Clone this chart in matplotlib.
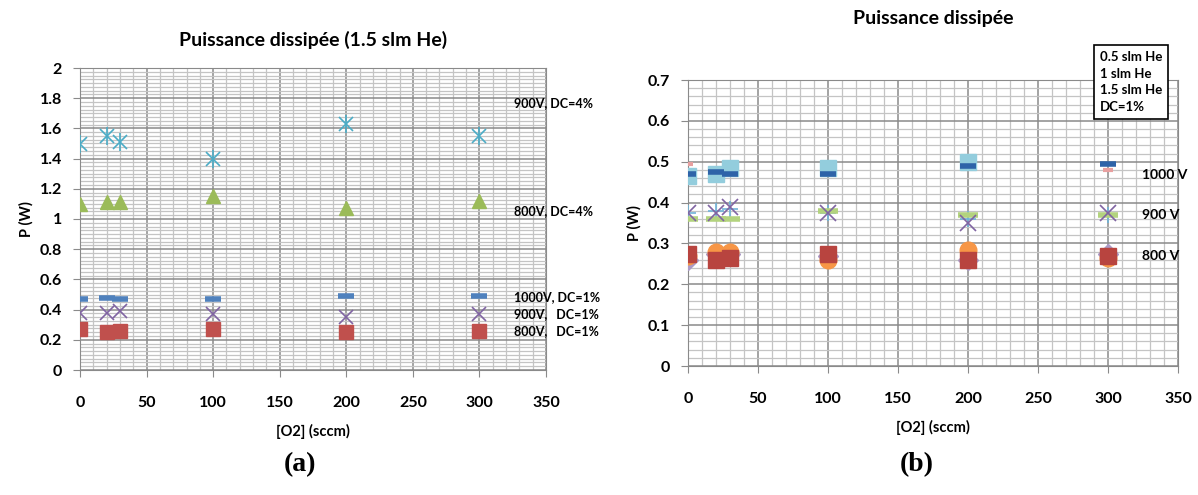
"""
Puissance dissipee vs O2 flow, two panels.
"""

import numpy as np
import matplotlib.pyplot as plt
from matplotlib.ticker import MultipleLocator, FormatStrFormatter

plt.rcParams["font.family"] = ["Lato", "DejaVu Sans"]

# x: O2 flow (sccm)
O2 = [0, 20, 30, 100, 200, 300]

# panel (a): 1.5 slm He
A_900_DC4 = [1.50, 1.55, 1.51, 1.40, 1.63, 1.55]
A_800_DC4 = [1.10, 1.11, 1.11, 1.15, 1.07, 1.12]
A_1000_DC1 = [0.47, 0.48, 0.47, 0.47, 0.49, 0.49]
A_900_DC1 = [0.38, 0.38, 0.39, 0.37, 0.35, 0.37]
A_800_DC1 = [0.27, 0.25, 0.26, 0.27, 0.25, 0.26]

# panel (b): DC=1%, three He flows
B_800_05 = [0.26, 0.275, 0.275, 0.27, 0.26, 0.275]
B_800_10 = [0.27, 0.28, 0.28, 0.26, 0.285, 0.265]
B_800_15 = [0.275, 0.26, 0.265, 0.275, 0.26, 0.27]
B_900_05 = [0.375, 0.38, 0.385, 0.375, 0.36, 0.37]
B_900_10 = [0.36, 0.36, 0.36, 0.38, 0.37, 0.37]
B_900_15 = [0.375, 0.375, 0.39, 0.375, 0.35, 0.375]
B_1000_05 = [0.495, 0.475, 0.48, 0.48, 0.495, 0.48]
B_1000_10 = [0.465, 0.47, 0.485, 0.485, 0.50, np.nan]
B_1000_15 = [0.47, 0.475, 0.47, 0.47, 0.49, 0.495]

W, H = 1198, 495


def style_axes(ax, ymax, ymajor, yminor):
    ax.set_xlim(0, 350)
    ax.set_ylim(0, ymax)
    ax.xaxis.set_major_locator(MultipleLocator(50))
    ax.xaxis.set_minor_locator(MultipleLocator(10))
    ax.yaxis.set_major_locator(MultipleLocator(ymajor))
    ax.yaxis.set_minor_locator(MultipleLocator(yminor))
    ax.yaxis.set_major_formatter(FormatStrFormatter("%g"))
    ax.grid(which="major", color="#8a8a8a", linewidth=1.1, zorder=0)
    ax.grid(which="minor", color="#c4c4c4", linewidth=0.9, zorder=0)
    ax.set_axisbelow(True)
    for s in ax.spines.values():
        s.set_color("#8a8a8a")
    ax.tick_params(which="major", direction="out", length=5, color="#8a8a8a",
                   labelsize=11.5, pad=8)
    ax.tick_params(which="minor", length=0)
    ax.tick_params(axis="x", pad=14)
    for lab in ax.get_xticklabels() + ax.get_yticklabels():
        lab.set_fontweight("bold")
    ax.set_xlabel("[O2] (sccm)", fontsize=10.5, fontweight="bold", labelpad=10)
    ax.set_ylabel("P (W)", fontsize=10.5, fontweight="bold", labelpad=4)


fig = plt.figure(figsize=(W / 100, H / 100), dpi=100)

# ---- panel (a)
axa = fig.add_axes([80 / W, 1 - 370 / H, (546 - 80) / W, (370 - 68) / H])
style_axes(axa, 2, 0.2, 0.025)
axa.plot(O2, A_900_DC4, ls="none", marker="x", ms=10, mew=1.2, color="#4bacc6", zorder=3)
axa.plot(O2, A_900_DC4, ls="none", marker="|", ms=13, mew=1.2, color="#4bacc6", zorder=3)
axa.plot(O2, A_800_DC4, ls="none", marker="^", ms=10, color="#9bbb59", zorder=3)
axa.plot(O2, A_1000_DC1, ls="none", marker="_", ms=11, mew=4, color="#4f81bd", zorder=3)
axa.plot(O2, A_900_DC1, ls="none", marker="x", ms=10, mew=1.2, color="#8064a2", zorder=3)
axa.plot(O2, A_800_DC1, ls="none", marker="s", ms=10, color="#c0504d", zorder=3)
axa.set_title("Puissance dissipée (1.5 slm He)", fontsize=14, fontweight="bold", pad=16)

a_labels = [("900V, DC=4%", 1.77), ("800V, DC=4%", 1.05),
            ("1000V, DC=1%", 0.48), ("900V,   DC=1%", 0.37), ("800V,   DC=1%", 0.26)]
for txt, yv in a_labels:
    axa.text(326, yv, txt, fontsize=9, fontweight="bold", va="center",
             clip_on=False, zorder=5)

# ---- panel (b)
axb = fig.add_axes([688 / W, 1 - 366 / H, (1178 - 688) / W, (366 - 80) / H])
style_axes(axb, 0.7, 0.1, 0.02)
axb.plot(O2, B_800_05, ls="none", marker="D", ms=10, color="#ab9ac6", zorder=3)
axb.plot(O2, B_800_10, ls="none", marker="o", ms=12, color="#f79646", zorder=3)
axb.plot(O2, B_800_15, ls="none", marker="s", ms=11.5, color="#b8443f", zorder=3)
axb.plot(O2, B_900_05, ls="none", marker="+", ms=12, mew=1.2, color="#6fb3d8", zorder=3)
axb.plot(O2, B_900_10, ls="none", marker="_", ms=14, mew=4, color="#b3d37e", zorder=3)
axb.plot(O2, B_900_15, ls="none", marker="x", ms=11, mew=1.2, color="#8064a2", zorder=3)
axb.plot(O2, B_1000_05, ls="none", marker="_", ms=7, mew=3, color="#e8a0a0", zorder=3)
axb.plot(O2, B_1000_10, ls="none", marker="s", ms=11.5, color="#93cddd", zorder=3)
axb.plot(O2, B_1000_15, ls="none", marker="_", ms=11, mew=4, color="#2e63a8", zorder=3)
axb.set_title("Puissance dissipée", fontsize=14, fontweight="bold", pad=40)

for txt, yv in [("1000 V", 0.467), ("900 V", 0.37), ("800 V", 0.27)]:
    axb.text(324, yv, txt, fontsize=10, fontweight="bold", va="center",
             clip_on=False, zorder=5)

axb.text(294, 0.77, "0.5 slm He\n1 slm He\n1.5 slm He\nDC=1%",
         fontsize=9.5, fontweight="bold", va="top",
         ha="left", linespacing=1.45, clip_on=False, zorder=6,
         bbox=dict(boxstyle="square,pad=0.45", fc="white", ec="black", lw=1.2))

fig.text(300 / W, 1 - 465 / H, "(a)", family="Liberation Serif", fontsize=20,
         fontweight="bold", ha="center", va="center")
fig.text(917 / W, 1 - 465 / H, "(b)", family="Liberation Serif", fontsize=20,
         fontweight="bold", ha="center", va="center")

fig.savefig("out.png", dpi=100)
